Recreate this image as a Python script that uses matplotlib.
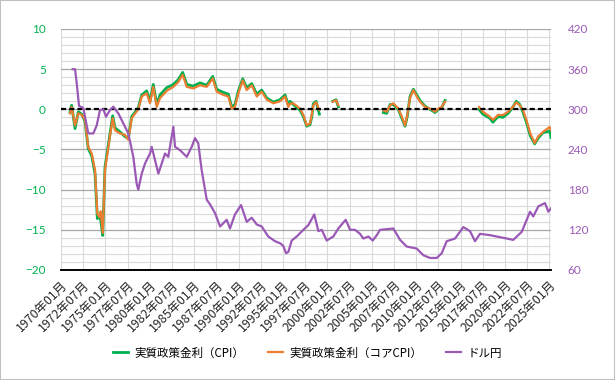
import numpy as np
import matplotlib
matplotlib.use('Agg')
import matplotlib.pyplot as plt
from matplotlib.patches import Rectangle

plt.rcParams['font.family'] = ['Noto Sans CJK JP', 'DejaVu Sans']

nan = np.nan

# real policy rate (%), decimal years; nan marks the gaps
rate_dates = [1971.01, 1971.20, 1971.58, 1971.95, 1972.33, 1972.70, 1973.07, 1973.46, 1973.83, 1974.09,
              1974.31, 1974.47, 1974.70, 1974.95, 1975.33, 1975.82, 1976.08, 1976.64, 1977.21, 1977.58,
              1977.96, 1978.70, 1979.09, 1979.65, 1980.02, 1980.39, 1980.78, 1981.15, 1981.90, 1982.65,
              1983.21, 1983.70, 1984.16, 1984.90, 1985.65, 1986.41, 1987.08, 1987.53, 1988.28, 1988.84,
              1989.22, 1989.59, 1989.97, 1990.46, 1990.91, 1991.48, 1992.04, 1992.60, 1993.17, 1993.91,
              1994.66, 1995.23, 1995.60, 1995.79, 1996.16, 1996.91, 1997.29, 1997.67, 1998.04, 1998.23,
              1998.41, 1998.72, 1999.09,
              1999.80,
              2000.60, 2000.97, 2001.23,
              2003.50,
              2006.30, 2006.68, 2007.05, 2007.42, 2007.98, 2008.37, 2008.74, 2008.99, 2009.30, 2009.67,
              2010.06, 2010.43, 2010.99, 2011.55, 2012.12, 2012.49, 2012.87, 2013.24,
              2015.00,
              2017.06, 2017.51, 2018.27, 2018.64, 2019.21, 2019.77, 2020.34, 2020.71, 2021.27, 2021.66,
              2022.03, 2022.40, 2022.84, 2023.34, 2023.72, 2024.28, 2025.03, 2025.18]

real_cpi = [-0.3, 0.5, -2.4, -0.3, -0.6, -1.5, -4.9, -5.8, -8.0, -13.6,
            -13.2, -13.8, -15.7, -7.2, -4.4, -0.8, -2.3, -2.8, -3.4, -3.6,
            -0.9, 0.2, 1.8, 2.3, 1.0, 3.1, 0.6, 1.8, 2.7, 3.1,
            3.7, 4.6, 3.1, 2.9, 3.3, 3.0, 4.1, 2.5, 2.1, 1.9,
            0.3, 0.6, 2.3, 3.8, 2.7, 3.2, 1.9, 2.4, 1.4, 0.9,
            1.2, 1.8, 0.5, 1.0, 0.6, -0.1, -0.9, -2.1, -1.9, -1.0,
            0.7, 1.0, -0.6,
            nan,
            1.0, 1.2, 0.3,
            nan,
            -0.4, -0.5, 0.6, 0.6, 0.0, -1.1, -2.1, -0.9, 1.6, 2.5,
            1.8, 1.1, 0.4, 0.0, -0.4, 0.0, 0.2, 1.1,
            nan,
            0.0, -0.6, -1.1, -1.6, -0.9, -1.0, -0.5, 0.0, 1.0, 0.6,
            -0.4, -1.6, -3.3, -4.3, -3.6, -2.9, -2.7, -3.5]

real_core = [-0.5, 0.3, -2.0, -0.5, -0.7, -1.3, -4.7, -5.5, -7.6, -13.0,
             -13.4, -12.7, -15.4, -7.6, -4.7, -1.1, -2.6, -3.0, -3.2, -3.8,
             -1.1, 0.0, 1.6, 2.0, 0.75, 2.8, 0.3, 1.4, 2.3, 2.8,
             3.4, 4.3, 2.8, 2.6, 3.0, 2.8, 3.85, 2.2, 1.8, 1.6,
             0.1, 0.3, 2.0, 3.6, 2.4, 3.0, 1.6, 2.2, 1.2, 0.75,
             1.0, 1.6, 0.3, 0.7, 0.75, 0.1, -0.7, -2.0, -1.75, -0.7,
             0.5, 0.9, -0.1,
             nan,
             0.95, 1.15, 0.5,
             nan,
             -0.1, -0.3, 0.5, 0.75, 0.1, -0.9, -2.0, -0.7, 1.4, 2.4,
             1.6, 0.95, 0.3, 0.1, -0.3, 0.1, 0.3, 0.95,
             nan,
             0.3, -0.3, -0.9, -1.3, -0.7, -0.7, -0.3, 0.1, 0.85, 0.5,
             -0.1, -1.3, -3.0, -4.2, -3.4, -2.8, -2.2, -2.6]

# USD/JPY
yen_dates = [1971.32, 1971.58, 1971.77, 1972.03, 1972.51, 1973.07, 1973.64, 1974.02, 1974.39, 1974.76,
             1975.07, 1975.52, 1975.89, 1976.45, 1977.02, 1977.58, 1978.14, 1978.52, 1978.70, 1979.09,
             1979.46, 1980.02, 1980.21, 1980.59, 1980.96, 1981.34, 1981.71, 1982.08, 1982.65, 1982.84,
             1983.40, 1984.16, 1984.72, 1985.09, 1985.46, 1985.84, 1986.41, 1986.78, 1987.34, 1987.91,
             1988.66, 1989.03, 1989.59, 1990.27, 1990.91, 1991.48, 1992.04, 1992.60, 1993.34, 1994.10,
             1994.66, 1995.03, 1995.34, 1995.60, 1995.98, 1996.54, 1997.29, 1997.85, 1998.52, 1998.98,
             1999.36, 1999.92, 2000.66, 2001.23, 2002.06, 2002.55, 2003.11, 2003.67, 2004.04, 2004.61,
             2005.10, 2005.56, 2005.92, 2007.42, 2008.18, 2008.93, 2010.06, 2010.80, 2011.55, 2012.31,
             2012.87, 2013.43, 2014.37, 2015.30, 2016.06, 2016.62, 2017.18, 2018.31, 2019.44, 2020.93,
             2021.88, 2022.81, 2023.18, 2023.75, 2024.50, 2024.88, 2025.18]
usdjpy = [360, 360, 339, 305, 302, 264, 264, 276, 299, 300,
          289, 299, 304, 294, 279, 264, 229, 189, 180, 204,
          219, 234, 244, 224, 204, 219, 234, 229, 274, 244,
          239, 229, 244, 257, 249, 209, 165, 158, 145, 125,
          135, 122, 143, 157, 132, 138, 128, 125, 110, 103,
          100, 96, 85, 87, 104, 110, 120, 127, 143, 118,
          120, 104, 110, 122, 135, 120, 120, 114, 107, 110,
          104, 112, 120, 122, 105, 95, 92, 82, 78, 78,
          85, 103, 107, 124, 118, 103, 114, 112, 109, 105,
          117, 147, 140, 155, 160, 147, 152]

tick_pos = [1970.0, 1972.5, 1975.0, 1977.5, 1980.0, 1982.5, 1985.0, 1987.5, 1990.0, 1992.5, 1995.0, 1997.5,
            2000.0, 2002.5, 2005.0, 2007.5, 2010.0, 2012.5, 2015.0, 2017.5, 2020.0, 2022.5, 2025.0]
tick_labels = ['1970年01月', '1972年07月', '1975年01月', '1977年07月', '1980年01月', '1982年07月',
               '1985年01月', '1987年07月', '1990年01月', '1992年07月', '1995年01月', '1997年07月',
               '2000年01月', '2002年07月', '2005年01月', '2007年07月', '2010年01月', '2012年07月',
               '2015年01月', '2017年07月', '2020年01月', '2022年07月', '2025年01月']

green = '#00B050'
orange = '#ED7D31'
purple = '#9B59B6'

fig = plt.figure(figsize=(6.15, 3.8), dpi=100)
ax = fig.add_axes([0.0992, 0.2895, 0.7968, 0.6342])

l1, = ax.plot(rate_dates, real_cpi, color=green, lw=2.0, label='実質政策金利（CPI）')
l2, = ax.plot(rate_dates, real_core, color=orange, lw=1.6, label='実質政策金利（コアCPI）')
ax.axhline(0, color='black', lw=1.6, ls=(0, (2.3, 1.4)), zorder=5)

ax.set_xlim(1970.0, 2025.18)
ax.set_ylim(-20, 10)
ax.set_yticks(range(-20, 11, 5))
ax.set_yticks(range(-20, 11, 1), minor=True)
ax.set_xticks(tick_pos)
ax.set_xticklabels(tick_labels, rotation=45, ha='right', rotation_mode='anchor', fontsize=8.9, color='#262626')
ax.grid(which='major', axis='y', color='#A6A6A6', lw=0.9)
ax.grid(which='minor', axis='y', color='#D9D9D9', lw=0.8)
ax.grid(which='major', axis='x', color='#D9D9D9', lw=0.8)
ax.set_axisbelow(True)
ax.tick_params(which='both', length=0)
ax.tick_params(axis='x', pad=6)
ax.tick_params(axis='y', pad=11, labelcolor=green)
for lab in ax.get_yticklabels():
    lab.set_family('Lato')
    lab.set_fontsize(8.5)

ax2 = ax.twinx()
l3, = ax2.plot(yen_dates, usdjpy, color=purple, lw=1.6, label='ドル円')
ax2.set_ylim(60, 420)
ax2.set_yticks(range(60, 421, 60))
ax2.tick_params(length=0, pad=12, labelcolor=purple)
for lab in ax2.get_yticklabels():
    lab.set_family('Lato')
    lab.set_fontsize(8.5)

for a in (ax, ax2):
    for s in ('left', 'right', 'top'):
        a.spines[s].set_visible(False)
    a.spines['bottom'].set_color('black')
    a.spines['bottom'].set_linewidth(1.2)

fig.legend(handles=[l1, l2, l3], loc='center', bbox_to_anchor=(0.5, 0.071), ncol=3, frameon=False,
           fontsize=8.3, handlelength=1.3, handletextpad=0.6, columnspacing=2.0)
fig.patches.append(Rectangle((0, 0), 1, 1, transform=fig.transFigure, fill=False,
                             edgecolor='#BFBFBF', lw=1.5))

fig.savefig('out.png', dpi=100)
